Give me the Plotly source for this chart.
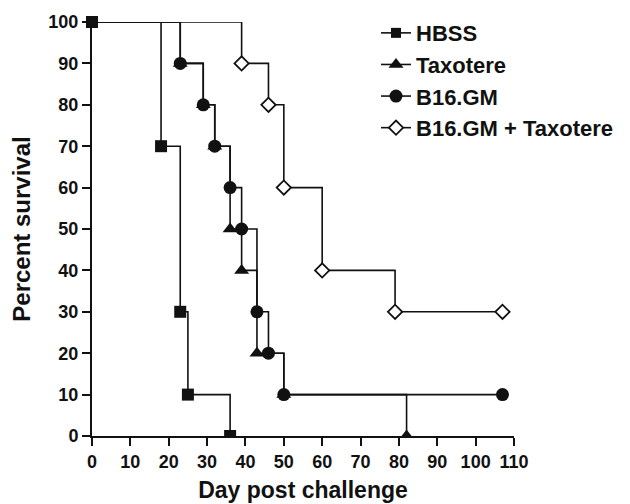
import plotly.graph_objects as go

# ---- data ----
series_names = ["HBSS", "Taxotere", "B16.GM", "B16.GM + Taxotere"]

hbss_day = [0, 18, 23, 25, 36]
hbss_surv = [100, 70, 30, 10, 0]

taxotere_day = [0, 23, 29, 32, 36, 39, 43, 50, 82]
taxotere_surv = [100, 90, 80, 70, 50, 40, 20, 10, 0]

b16gm_day = [0, 23, 29, 32, 36, 39, 43, 46, 50, 107]
b16gm_surv = [100, 90, 80, 70, 60, 50, 30, 20, 10, 10]

combo_day = [0, 39, 46, 50, 60, 79, 107]
combo_surv = [100, 90, 80, 60, 40, 30, 30]

x_ticks = list(range(0, 111, 10))
y_ticks = list(range(0, 101, 10))

FONT = "Liberation Sans, Arial, Helvetica, sans-serif"
BLACK = "#111111"

styles = [
    dict(symbol="square", size=12, color=BLACK, line=dict(width=0)),
    dict(symbol="triangle-up", size=13, color=BLACK, line=dict(width=0)),
    dict(symbol="circle", size=13, color=BLACK, line=dict(width=0)),
    dict(symbol="diamond", size=11, color="white", line=dict(width=1.8, color=BLACK)),
]

data = [
    (hbss_day, hbss_surv, True),
    (taxotere_day, taxotere_surv, False),
    (b16gm_day, b16gm_surv, False),
    (combo_day, combo_surv, False),
]

fig = go.Figure()

# step lines
for (xs, ys, _), name in zip(data, series_names):
    fig.add_trace(go.Scatter(
        x=xs, y=ys, mode="lines", line=dict(color=BLACK, width=1.6, shape="hv"),
        showlegend=False, hoverinfo="skip", cliponaxis=False,
    ))

# markers: draw combo first, HBSS last so square covers the start point
order = [3, 1, 2, 0]
for i in order:
    xs, ys, start_marker = data[i]
    start = 0 if start_marker else 1
    mx = [x for x, y in zip(xs[start:], ys[start:]) if y > 0]
    my = [y for y in ys[start:] if y > 0]
    zx = [x for x, y in zip(xs[start:], ys[start:]) if y == 0]
    zy = [y for y in ys[start:] if y == 0]
    fig.add_trace(go.Scatter(x=mx, y=my, mode="markers", marker=styles[i],
                             showlegend=False, cliponaxis=False, hoverinfo="skip"))
    if zx:
        fig.add_trace(go.Scatter(x=zx, y=zy, mode="markers", marker=styles[i],
                                 showlegend=False, cliponaxis=True, hoverinfo="skip"))

# legend entries
for i, name in enumerate(series_names):
    st = dict(styles[i])
    if i == 0:
        st["size"] = 10
    fig.add_trace(go.Scatter(x=[None], y=[None], mode="lines+markers", name=name,
                             line=dict(color=BLACK, width=1.6), marker=st))

axis_common = dict(
    showline=True, linecolor=BLACK, linewidth=2,
    ticks="outside", ticklen=8, tickwidth=2, tickcolor=BLACK,
    showgrid=False, zeroline=False, automargin=False,
    tickfont=dict(family=FONT, size=18, color=BLACK, weight="bold"),
)

fig.update_layout(
    width=630, height=504,
    margin=dict(l=84, r=124, t=14, b=76, autoexpand=False),
    paper_bgcolor="white", plot_bgcolor="white",
    font=dict(family=FONT, color=BLACK, weight="bold"),
    xaxis=dict(range=[0, 110], tickvals=x_ticks, ticktext=[str(v) for v in x_ticks],
               title=dict(text="Day post challenge", standoff=11,
                          font=dict(family=FONT, size=23, color=BLACK, weight="bold")),
               **axis_common),
    yaxis=dict(range=[0, 100], tickvals=y_ticks, ticktext=[str(v) for v in y_ticks],
               title=dict(text="Percent survival", standoff=12,
                          font=dict(family=FONT, size=24, color=BLACK, weight="bold")),
               **axis_common),
    legend=dict(x=0.673, y=1.024, xanchor="left", yanchor="top",
                font=dict(family=FONT, size=22, color=BLACK, weight="bold"),
                bgcolor="rgba(0,0,0,0)", itemwidth=30, tracegroupgap=0),
    showlegend=True,
)

fig.write_html("out.html")
